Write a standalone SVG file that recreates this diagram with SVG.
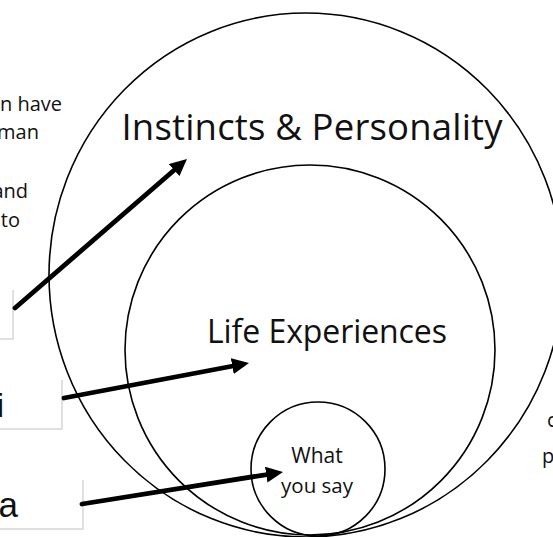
<svg xmlns="http://www.w3.org/2000/svg" width="553" height="537" viewBox="0 0 553 537">
  <style>
    .ring { fill: none; stroke: #000; stroke-width: 1.6; }
    .label { font-family: "Open Sans", "Noto Sans", sans-serif; fill: #111; }
    .boxtext { font-family: "Liberation Sans", Arial, sans-serif; fill: #111; }
    .frame { fill: none; stroke: #d6d6d6; stroke-width: 1.5; }
    .arrow { fill: none; stroke: #000; stroke-width: 4.8; stroke-linecap: round; marker-end: url(#head); }
  </style>
  <defs>
    <marker id="head" viewBox="0 0 17 16" refX="9" refY="8" markerWidth="17" markerHeight="16" markerUnits="userSpaceOnUse" orient="auto">
      <path d="M0,0 L17,8 L0,16 Z" fill="#000"/>
    </marker>
  </defs>
  <rect width="553" height="537" fill="#fff"/>

  <!-- side text fragments -->
  <g id="left-notes" class="label" font-size="20" text-anchor="end">
    <text x="62" y="111">n have</text>
    <text x="39" y="139">man</text>
    <text x="28" y="198">and</text>
    <text x="20" y="227">to</text>
  </g>
  <g id="right-notes" class="label" font-size="20">
    <text x="547" y="427">c</text>
    <text x="542" y="463">p</text>
  </g>

  <!-- outer ring -->
  <g id="instincts">
    <ellipse class="ring" cx="306" cy="275" rx="257" ry="262"/>
    <text class="label" x="312" y="140" font-size="36.5" text-anchor="middle" textLength="381">Instincts &amp; Personality</text>
  </g>

  <!-- middle ring -->
  <g id="experiences">
    <circle class="ring" cx="310" cy="350" r="185"/>
    <text class="label" x="327" y="343" font-size="32" text-anchor="middle" textLength="240">Life Experiences</text>
  </g>

  <!-- inner ring -->
  <g id="what-you-say">
    <circle class="ring" cx="318" cy="469" r="67"/>
    <text class="label" x="317" y="463" font-size="21" text-anchor="middle">What</text>
    <text class="label" x="317" y="493" font-size="20.5" text-anchor="middle">you say</text>
  </g>

  <!-- label boxes -->
  <g id="box-1">
    <rect x="-10" y="290" width="23" height="49" fill="#fff"/>
    <path class="frame" d="M13,290 V339 H-2"/>
  </g>
  <g id="box-2">
    <rect x="-10" y="380" width="72" height="49" fill="#fff"/>
    <path class="frame" d="M62,380 V429 H-2"/>
    <text class="boxtext" x="4" y="417" font-size="33" text-anchor="end">i</text>
  </g>
  <g id="box-3">
    <rect x="-10" y="480" width="93" height="49" fill="#fff"/>
    <path class="frame" d="M83,480 V529 H-2"/>
    <text class="boxtext" x="18" y="517" font-size="35" text-anchor="end">a</text>
  </g>

  <!-- connectors -->
  <g id="connectors">
    <path class="arrow" d="M15,308 L180.95,164.24"/>
    <path class="arrow" d="M64,398 L241.14,364.49"/>
    <path class="arrow" d="M82,504 L275.1,473.26"/>
  </g>
</svg>
